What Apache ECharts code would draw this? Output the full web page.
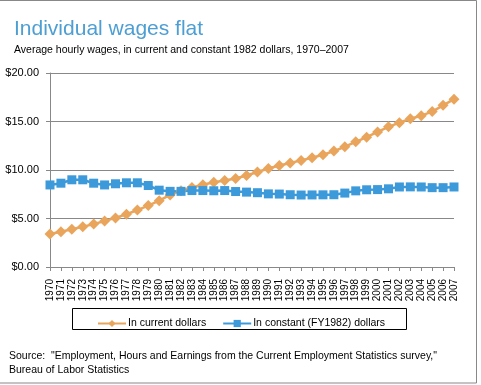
<!DOCTYPE html>
<html><head><meta charset="utf-8">
<script src="https://cdn.jsdelivr.net/npm/echarts@6/dist/echarts.min.js"></script>
<style>html,body{margin:0;padding:0;background:#fff}#c{width:481px;height:385px}</style>
</head><body><div id="c"></div>
<script>
const years = ['1970','1971','1972','1973','1974','1975','1976','1977','1978','1979','1980','1981','1982','1983','1984','1985','1986','1987','1988','1989','1990','1991','1992','1993','1994','1995','1996','1997','1998','1999','2000','2001','2002','2003','2004','2005','2006','2007'];
const currentDollars = [3.40,3.63,3.90,4.14,4.43,4.73,5.06,5.44,5.87,6.33,6.84,7.43,7.86,8.19,8.48,8.73,8.92,9.13,9.43,9.80,10.15,10.47,10.72,10.99,11.26,11.57,11.95,12.40,12.90,13.38,13.93,14.45,14.88,15.28,15.60,16.02,16.67,17.30];
const constantDollars = [8.46,8.64,8.99,8.99,8.64,8.46,8.58,8.68,8.68,8.40,7.92,7.80,7.80,7.88,7.88,7.86,7.88,7.78,7.72,7.66,7.54,7.52,7.45,7.42,7.43,7.44,7.45,7.62,7.85,7.96,7.98,8.06,8.25,8.26,8.25,8.18,8.18,8.25];
const yTicks = [0,5,10,15,20];
const seriesNames = ['In current dollars','In constant (FY1982) dollars'];
const titleText = 'Individual wages flat';
const subtitleText = 'Average hourly wages, in current and constant 1982 dollars, 1970\u20132007';
const sourceLines = ['Source:  "Employment, Hours and Earnings from the Current Employment Statistics survey,"','Bureau of Labor Statistics'];

const FONT = 'Liberation Sans, Arial, sans-serif';
const ORANGE = '#EAA55C';
const BLUE = '#3C9ADA';
const chart = echarts.init(document.getElementById('c'), null, {renderer:'canvas'});
chart.setOption({
  animation:false,
  backgroundColor:'#fff',
  textStyle:{fontFamily:FONT},
  title:[
    {text:titleText,left:9,top:14,textStyle:{fontFamily:FONT,fontSize:21,fontWeight:'normal',color:'#4C9ED3'}},
    {text:subtitleText,left:9,top:40,textStyle:{fontFamily:FONT,fontSize:10.5,fontWeight:'normal',color:'#000'}}
  ],
  graphic:[
    {type:'rect',shape:{x:-2,y:0.5,width:478.5,height:382.5},style:{fill:'none',stroke:'#888',lineWidth:1},silent:true,z:100},
    {type:'rect',shape:{x:72.5,y:308.5,width:334,height:21},style:{fill:'none',stroke:'#000',lineWidth:1},silent:true},
    {type:'text',left:9,top:349,style:{text:sourceLines.join('\n'),font:'10.5px '+FONT,fill:'#000',lineHeight:14}}
  ],
  legend:{
    left:92, top:313, itemGap:16, itemWidth:28, itemHeight:9,
    textStyle:{fontFamily:FONT,fontSize:10.5,color:'#000',padding:[0,0,0,-3]},
    data:seriesNames
  },
  grid:{left:50,right:27,top:73,bottom:118,containLabel:false},
  xAxis:{
    type:'category', data:years, boundaryGap:false,
    axisLine:{lineStyle:{color:'#888',width:1}},
    axisTick:{show:true,alignWithLabel:true,length:4,lineStyle:{color:'#888'}},
    axisLabel:{rotate:90,interval:0,fontFamily:FONT,fontSize:10,color:'#000',margin:12}
  },
  yAxis:{
    type:'value', min:0, max:20, interval:5,
    axisLine:{show:true,lineStyle:{color:'#888'}},
    axisTick:{show:true,length:4,lineStyle:{color:'#888'}},
    splitLine:{lineStyle:{color:'#888',width:1}},
    axisLabel:{fontFamily:FONT,fontSize:11,color:'#000',margin:11,formatter:v=>'$'+v.toFixed(2)}
  },
  series:[
    {name:seriesNames[0],type:'line',data:currentDollars,symbol:'diamond',symbolSize:11,
     lineStyle:{color:ORANGE,width:2.5},itemStyle:{color:ORANGE}},
    {name:seriesNames[1],type:'line',data:constantDollars,symbol:'rect',symbolSize:9,
     lineStyle:{color:BLUE,width:2.5},itemStyle:{color:BLUE}}
  ]
});
</script></body></html>
